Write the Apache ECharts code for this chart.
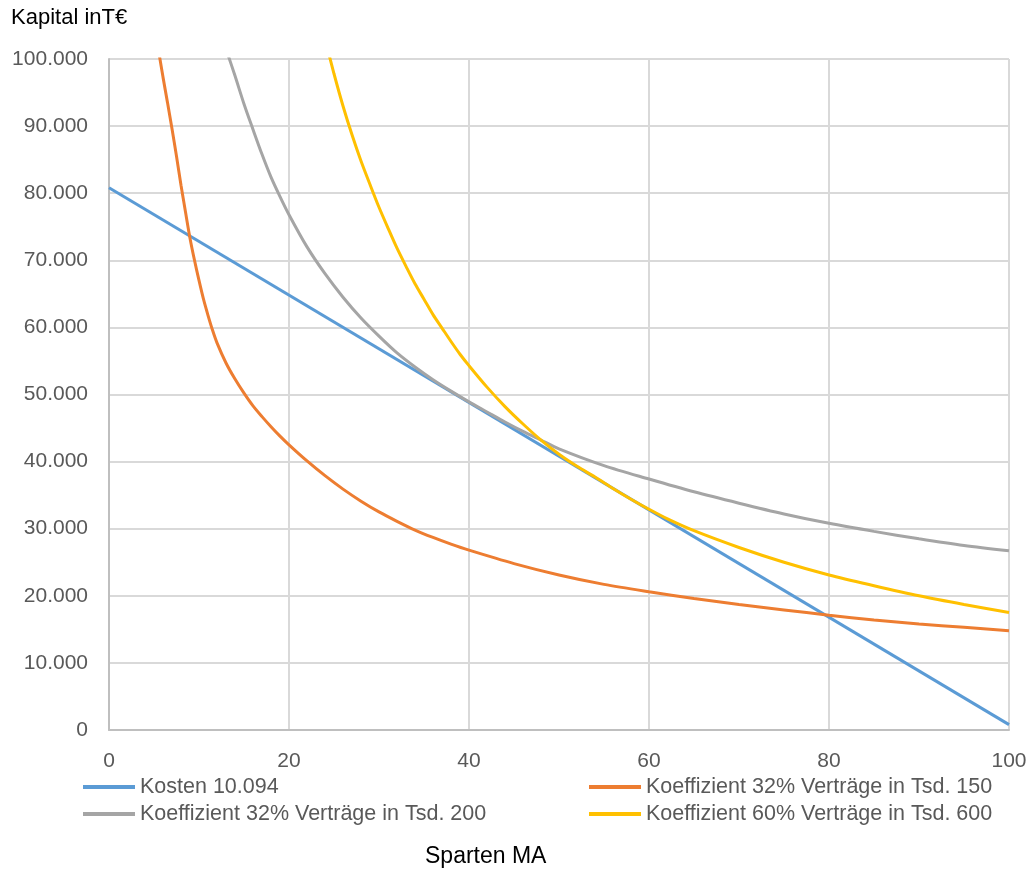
<!DOCTYPE html>
<html>
<head>
<meta charset="utf-8">
<script src="https://cdn.jsdelivr.net/npm/echarts@6/dist/echarts.min.js"></script>
<style>html,body{margin:0;padding:0;background:#fff}#c{width:1030px;height:870px}</style>
</head>
<body>
<div id="c"></div>
<script>
// ---- data ----
const seriesNames = ["Kosten 10.094", "Koeffizient 32% Verträge in Tsd. 150", "Koeffizient 32% Verträge in Tsd. 200", "Koeffizient 60% Verträge in Tsd. 600"];
const xTicks = [0, 20, 40, 60, 80, 100];
const yTicks = [0, 10000, 20000, 30000, 40000, 50000, 60000, 70000, 80000, 90000, 100000];

const kostenX = [0, 100];
const kostenY = [80800, 800];

const orangeX = [5.5, 6, 6.5, 7, 7.5, 8, 8.5, 9, 9.5, 10, 10.5, 11, 11.5, 12, 13, 14, 15, 16, 17, 18, 19, 20, 22, 24, 26, 28, 30, 32, 34, 36, 38, 40, 45, 50, 55, 60, 65, 70, 75, 80, 85, 90, 95, 100];
const orangeY = [101300, 97300, 93500, 89600, 85500, 81200, 77200, 73300, 70000, 67000, 64200, 61800, 59600, 57700, 54700, 52300, 50200, 48300, 46700, 45200, 43800, 42500, 40100, 37900, 35900, 34100, 32500, 31100, 29800, 28700, 27700, 26800, 24800, 23100, 21700, 20600, 19600, 18700, 17900, 17100, 16400, 15800, 15300, 14800];

const grayX = [13, 14, 15, 16, 17, 18, 19, 20, 22, 24, 26, 28, 30, 32, 34, 36, 38, 40, 42, 44, 46, 48, 50, 55, 60, 65, 70, 75, 80, 85, 90, 95, 100];
const grayY = [101500, 97500, 93300, 89500, 85800, 82400, 79500, 76800, 72000, 68000, 64500, 61400, 58700, 56200, 54100, 52200, 50500, 48900, 47400, 45900, 44500, 43200, 41900, 39400, 37400, 35500, 33800, 32200, 30800, 29600, 28500, 27500, 26700];

const yellowX = [24, 25, 26, 27, 28, 29, 30, 31, 32, 33, 34, 35, 36, 37, 38, 39, 40, 42, 44, 46, 48, 50, 52, 54, 56, 58, 60, 62, 65, 70, 75, 80, 85, 90, 95, 100];
const yellowY = [103000, 97800, 93000, 88700, 84800, 81300, 77900, 74800, 71800, 69100, 66500, 64200, 61900, 59900, 57900, 56000, 54300, 51100, 48200, 45600, 43200, 41100, 39300, 37700, 36000, 34400, 32900, 31500, 29700, 27200, 25000, 23100, 21500, 20000, 18700, 17500];

const colors = ["#5B9BD5", "#ED7D31", "#A5A5A5", "#FFC000"];

function pairs(xs, ys) { return xs.map((x, i) => [x, ys[i]]); }
function deFmt(v) {
  if (v === 0) return "0";
  const s = String(Math.round(v));
  return s.replace(/\B(?=(\d{3})+(?!\d))/g, ".");
}

const chart = echarts.init(document.getElementById("c"), null, { renderer: "canvas" });
const font = "'Liberation Sans', Arial, sans-serif";
const mkSeries = (name, data, color, z) => ({
  name, type: "line", data, smooth: 0.3, showSymbol: false, symbol: "none",
  lineStyle: { color, width: 3 }, itemStyle: { color }, clip: true, z, animation: false
});
const legendBase = {
  orient: "vertical", top: 776, padding: 0,
  icon: "rect", itemWidth: 52, itemHeight: 4, itemGap: 5,
  textStyle: { color: "#595959", fontSize: 21.5, fontFamily: font }
};

chart.setOption({
  animation: false,
  backgroundColor: "#fff",
  textStyle: { fontFamily: font },
  grid: { left: 109, right: 21, top: 59, bottom: 140, containLabel: false },
  graphic: [
    { type: "text", left: 11, top: 7, style: { text: "Kapital inT€", font: "22px " + font, fill: "#000" } },
    { type: "text", left: 425, top: 845, style: { text: "Sparten MA", font: "23px " + font, fill: "#000" } }
  ],
  xAxis: {
    type: "value", min: xTicks[0], max: xTicks[xTicks.length - 1], interval: 20,
    axisLine: { show: true, lineStyle: { color: "#BFBFBF", width: 2 } },
    axisTick: { show: false },
    splitLine: { show: true, lineStyle: { color: "#D9D9D9", width: 2 } },
    axisLabel: { color: "#595959", fontSize: 21, fontFamily: font, margin: 21 }
  },
  yAxis: {
    type: "value", min: yTicks[0], max: yTicks[yTicks.length - 1], interval: 10000,
    axisLine: { show: true, lineStyle: { color: "#BFBFBF", width: 2 } },
    axisTick: { show: false },
    splitLine: { show: true, lineStyle: { color: "#D9D9D9", width: 2 } },
    axisLabel: { color: "#595959", fontSize: 21, fontFamily: font, margin: 21, formatter: deFmt }
  },
  legend: [
    Object.assign({}, legendBase, { data: [seriesNames[0], seriesNames[2]], left: 83 }),
    Object.assign({}, legendBase, { data: [seriesNames[1], seriesNames[3]], left: 589 })
  ],
  series: [
    mkSeries(seriesNames[0], pairs(kostenX, kostenY), colors[0], 2),
    mkSeries(seriesNames[1], pairs(orangeX, orangeY), colors[1], 3),
    mkSeries(seriesNames[2], pairs(grayX, grayY), colors[2], 4),
    mkSeries(seriesNames[3], pairs(yellowX, yellowY), colors[3], 5)
  ]
});
</script>
</body>
</html>
